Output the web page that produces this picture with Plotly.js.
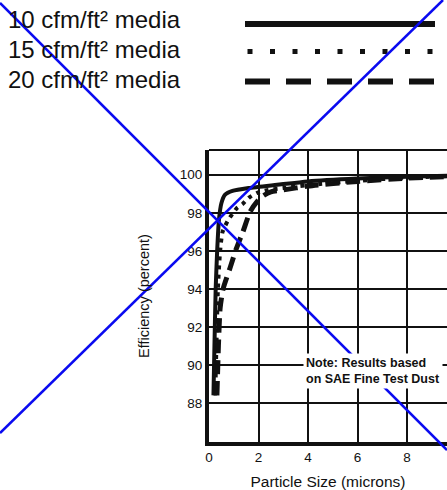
<!DOCTYPE html>
<html>
<head>
<meta charset="utf-8">
<script src="https://cdn.plot.ly/plotly-3.0.1.min.js"></script>
<style>html,body{margin:0;padding:0;background:#fff;}#chart{width:447px;height:490px;}</style>
</head>
<body>
<div id="chart"></div>
<script>
// Particle size (microns) and efficiency (percent)
const size10 = [0.18, 0.22, 0.27, 0.33, 0.40, 0.50, 0.65, 0.95, 1.6, 2.75, 4, 6, 8, 9.7];
const eff10  = [88.4, 91.0, 94.0, 96.0, 97.6, 98.5, 98.95, 99.15, 99.3, 99.47, 99.65, 99.8, 99.9, 99.95];
const size15 = [0.25, 0.30, 0.36, 0.45, 0.55, 0.77, 1.13, 1.35, 1.62, 1.95, 2.4, 3, 4, 6, 8, 9.7];
const eff15  = [88.4, 91.0, 94.0, 96.0, 97.0, 97.6, 98.25, 98.45, 98.8, 99.05, 99.2, 99.3, 99.45, 99.68, 99.85, 99.92];
const size20 = [0.32, 0.38, 0.45, 0.57, 0.85, 1.1, 1.37, 1.66, 1.95, 2.2, 2.5, 3, 4, 6, 8, 9.7];
const eff20  = [88.4, 91.0, 93.0, 94.0, 95.1, 96.1, 97.0, 98.05, 98.6, 98.9, 99.1, 99.2, 99.4, 99.65, 99.82, 99.9];

const seriesNames = ["10 cfm/ft² media", "15 cfm/ft² media", "20 cfm/ft² media"];
const xTicks = [0, 2, 4, 6, 8];
const yTicks = [88, 90, 92, 94, 96, 98, 100];
const xTitle = "Particle Size (microns)";
const yTitle = "Efficiency (percent)";
const noteText = "Note: Results based<br>on SAE Fine Test Dust";

const L = 209, T = 150, W = 238, H = 292;
const PX = px => (px - L) / W;
const PY = py => (T + H - py) / H;
const sans = "Liberation Sans, Arial, Helvetica, sans-serif";
const ink = "#111";

const traces = [
  {x: size10, y: eff10, mode: "lines", line: {color: ink, width: 4, shape: "spline", smoothing: 0.6}, name: seriesNames[0]},
  {x: size15, y: eff15, mode: "lines", line: {color: ink, width: 4, dash: "4px,5px", shape: "spline", smoothing: 0.6}, name: seriesNames[1]},
  {x: size20, y: eff20, mode: "lines", line: {color: ink, width: 5, dash: "14px,7px", shape: "spline", smoothing: 0.6}, name: seriesNames[2]}
];

const legendY = [19.5, 49, 80];
const annotations = seriesNames.map((t, i) => ({
  xref: "paper", yref: "paper", x: PX(6), y: PY(legendY[i]), xanchor: "left", yanchor: "middle",
  text: t, showarrow: false, font: {family: sans, size: 24, color: ink}
}));
annotations.push({
  xref: "paper", yref: "paper", x: PX(303), y: PY(353), xanchor: "left", yanchor: "top",
  text: noteText, align: "left", showarrow: false, bgcolor: "#fff", borderpad: 2,
  font: {family: sans, size: 12.5, color: ink, weight: "bold"}
});

const shapes = [
  {type: "line", xref: "paper", yref: "paper", x0: 0, x1: 1, y0: 1, y1: 1, line: {color: ink, width: 2}},
  {type: "line", xref: "paper", yref: "paper", x0: PX(245), x1: PX(435), y0: PY(24), y1: PY(24), line: {color: ink, width: 6}},
  {type: "line", xref: "paper", yref: "paper", x0: PX(247.5), x1: PX(435), y0: PY(51.5), y1: PY(51.5), line: {color: ink, width: 5, dash: "5px,17.5px"}},
  {type: "line", xref: "paper", yref: "paper", x0: PX(245), x1: PX(436), y0: PY(81.5), y1: PY(81.5), line: {color: ink, width: 6, dash: "25px,16px"}},
  {type: "line", xref: "paper", yref: "paper", layer: "above", x0: PX(0), y0: PY(3), x1: PX(447), y1: PY(450), line: {color: "#0a0af0", width: 2.5}},
  {type: "line", xref: "paper", yref: "paper", layer: "above", x0: PX(443), y0: PY(0), x1: PX(0), y1: PY(433), line: {color: "#0a0af0", width: 2.5}}
];

const layout = {
  width: 447, height: 490,
  margin: {l: L, r: 447 - L - W, t: T, b: 490 - T - H},
  paper_bgcolor: "#fff", plot_bgcolor: "#fff",
  showlegend: false,
  xaxis: {
    range: [0, 9.616], tickvals: xTicks, ticktext: xTicks.map(String),
    showgrid: true, gridcolor: ink, gridwidth: 2, zeroline: false,
    showline: true, linecolor: ink, linewidth: 4, ticks: "",
    tickfont: {family: sans, size: 13.5, color: ink},
    title: {text: xTitle, font: {family: sans, size: 15.5, color: ink}, standoff: 14},
    fixedrange: true
  },
  yaxis: {
    range: [85.95, 101.3], tickvals: yTicks, ticktext: yTicks.map(String),
    showgrid: true, gridcolor: ink, gridwidth: 2, zeroline: false,
    showline: true, linecolor: ink, linewidth: 4, ticks: "",
    tickfont: {family: sans, size: 13.5, color: ink},
    title: {text: yTitle, font: {family: sans, size: 14.5, color: ink}, standoff: 28},
    fixedrange: true
  },
  annotations: annotations,
  shapes: shapes
};

Plotly.newPlot("chart", traces, layout, {staticPlot: true, displayModeBar: false});
</script>
</body>
</html>
